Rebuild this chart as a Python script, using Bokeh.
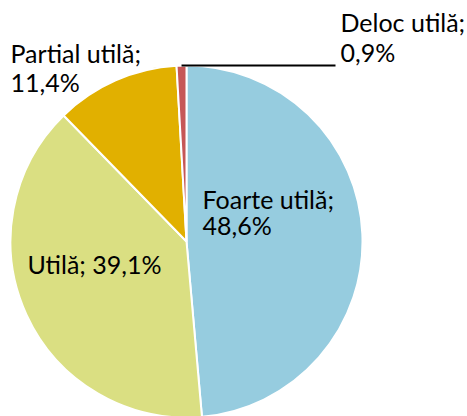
import numpy as np
from bokeh.plotting import figure
from bokeh.models import Range1d, ColumnDataSource
from bokeh.core.properties import value
from bokeh.embed import file_html
from bokeh.resources import INLINE

categories = ["Foarte utilă", "Utilă", "Partial utilă", "Deloc utilă"]
percents = [48.6, 39.1, 11.4, 0.9]
colors = ["#96CCDF", "#DADF82", "#E1B000", "#C65757"]

W, H = 467, 416
p = figure(width=W, height=H, output_backend="svg", toolbar_location=None,
           x_range=Range1d(0, W), y_range=Range1d(0, H), min_border=0)
p.axis.visible = False
p.grid.visible = False
p.outline_line_color = None
p.background_fill_color = "white"

cx, cy, r = 186, H - 241, 176
vals = np.array(percents)
frac = vals / vals.sum()
cum = np.concatenate([[0], np.cumsum(frac)])
start = np.pi / 2 - cum[1:] * 2 * np.pi
end = np.pi / 2 - cum[:-1] * 2 * np.pi
src = ColumnDataSource(dict(start=start, end=end, color=colors))
p.wedge(x=cx, y=cy, radius=r, start_angle="start", end_angle="end",
        fill_color="color", line_color="white", line_width=2, source=src)

# leader line for the small slice
mid = (start[3] + end[3]) / 2
lx, ly = cx + r * np.cos(mid), cy + r * np.sin(mid)
p.line(x=[lx, 335], y=[ly, ly], line_color="black", line_width=2)

def fmt(v):
    return f"{v:.1f}%".replace(".", ",")

# label layout (screen x, baseline y of first line, line gap, single-line?)
layout = [
    (202, 198, 26, False),
    (27, 263, 0, True),
    (10, 52, 29, False),
    (340, 21, 30, False),
]
tx, ty, tt = [], [], []
for (cat, v, (x, yb, gap, single)) in zip(categories, percents, layout):
    if single:
        tx.append(x); ty.append(H - yb); tt.append(f"{cat}; {fmt(v)}")
    else:
        tx.append(x); ty.append(H - yb); tt.append(f"{cat};")
        tx.append(x); ty.append(H - yb - gap); tt.append(fmt(v))
p.text(x=tx, y=ty, text=tt, text_font=value("Lato"), text_font_size="25px",
       text_baseline="alphabetic", text_align="left", text_color="black")

open("out.html", "w").write(file_html(p, INLINE))
